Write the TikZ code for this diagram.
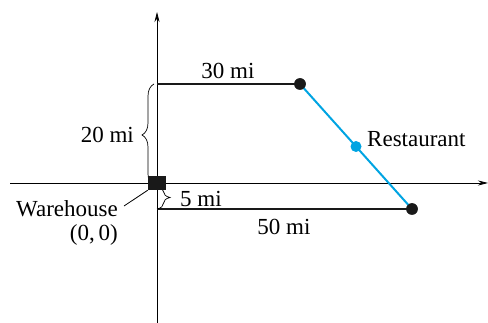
\documentclass[tikz,border=0pt]{standalone}
\usepackage{fontspec}
\setmainfont{Liberation Serif}
\usetikzlibrary{arrows.meta,calc,decorations.pathreplacing}
\definecolor{rblue}{RGB}{0,164,226}
\begin{document}
\begin{tikzpicture}[x=1pt,y=-1pt,
  axis/.style={line width=0.8pt,draw=black},
  seg/.style={line width=2.5pt,draw=black!90},
  dot/.style={circle,fill=black!90,inner sep=0pt,minimum size=11.5pt},
  bdot/.style={circle,fill=rblue,inner sep=0pt,minimum size=11pt},
  lbl/.style={inner sep=0pt,font=\fontsize{23}{26}\selectfont},
  brc/.style={decorate,decoration={brace,amplitude=#1},line width=0.7pt}]
\useasboundingbox (0,0) rectangle (488,323);
% axes
\coordinate (xl) at (10,183);
\coordinate (xr) at (488,183);
\coordinate (yb) at (157,323);
\coordinate (yt) at (157,12);
\draw[axis,-{Stealth[length=10pt,width=5pt]}] (xl) -- (xr);
\draw[axis,-{Stealth[length=10pt,width=5pt]}] (yb) -- (yt);
% points
\coordinate (tl) at (157,84);
\coordinate (bl) at (157,209);
\node[dot] (top) at (300,84) {};
\node[dot] (bot) at (412,209) {};
\draw[seg] (tl) -- (top.center);
\draw[seg] (bl) -- (bot.center);
\draw[rblue,line width=2pt] (top.center) -- (bot.center);
\node[bdot] (rest) at ($(top.center)!0.5!(bot.center)$) {};
\node[dot] (top2) at (300,84) {};
\node[dot] (bot2) at (412,209) {};
% braces
\coordinate (b20t) at (154,84);
\coordinate (b20b) at (154,186);
\draw[brc=12pt] (b20b) -- (b20t);
\coordinate (b5t) at (157,186);
\coordinate (b5b) at (157,209);
\draw[brc=13pt] (b5t) -- (b5b);
% warehouse
\node[fill=black!90,minimum width=18pt,minimum height=14pt,inner sep=0pt] (wh) at (157,183) {};
% labels
\node[lbl] (l30) at (228,71) {30 mi};
\node[lbl,anchor=east] (l20) at (134,135) {20 mi};
\node[lbl,anchor=west] (l5) at (180,199) {5 mi};
\node[lbl] (l50) at (284,227) {50 mi};
\node[lbl,anchor=west] (lr) at (367,139) {Restaurant};
\node[lbl,anchor=east] (lw) at (118,209) {Warehouse};
\node[lbl,anchor=east] (l00) at (118,235) {(0,\,0)};
\draw[line width=0.8pt] (lw.east) ++(6,-3) coordinate (ls) -- (wh.south west);
\end{tikzpicture}
\end{document}
